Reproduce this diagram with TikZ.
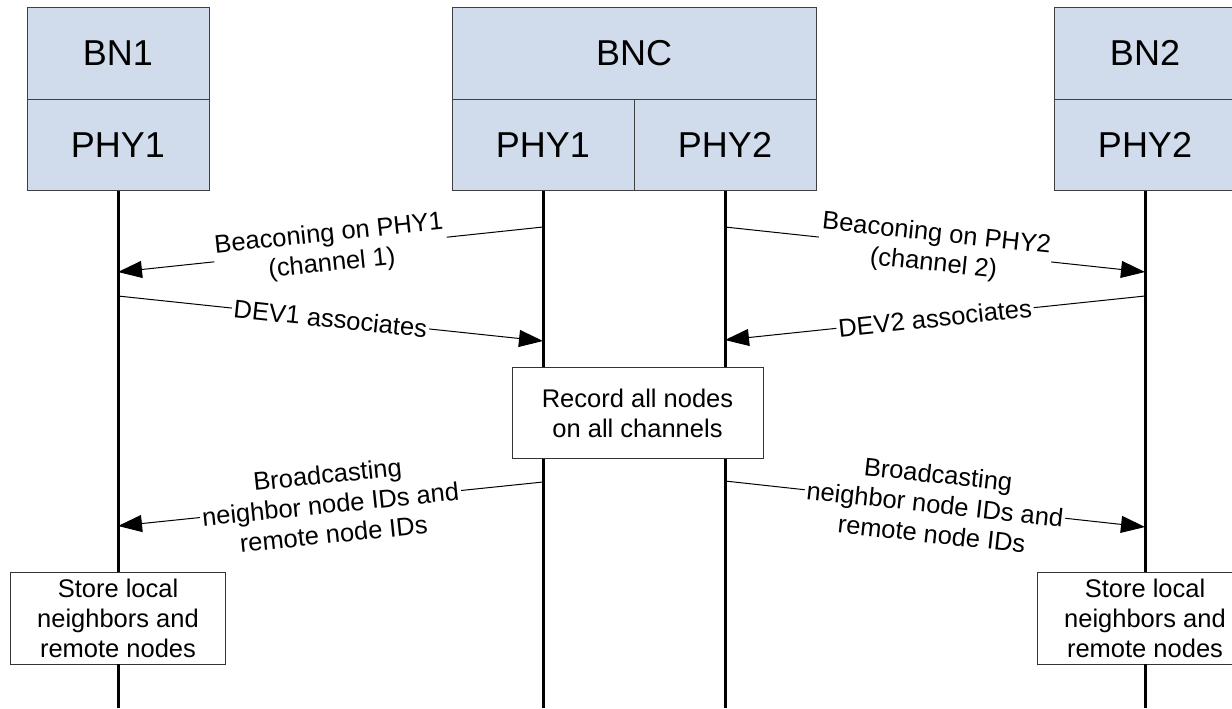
\documentclass[tikz,border=0pt]{standalone}
\usepackage{fontspec}
\setmainfont{Liberation Sans}
\usepackage{xcolor}
\usepackage{tikz}
\usetikzlibrary{arrows.meta,positioning}
\definecolor{headblue}{RGB}{208,220,236}

\begin{document}
\begin{tikzpicture}[
    x=0.5pt, y=-0.5pt,
    font=\fontsize{12.75}{15}\selectfont,
    head/.style={draw=black!75, fill=headblue, minimum width=91pt, minimum height=46pt, inner sep=0pt, font=\fontsize{18}{21}\selectfont},
    phy/.style={head, minimum height=45.5pt},
    life/.style={line width=1.5pt},
    msg/.style={-{Triangle[length=12pt, width=8.5pt]}, line width=0.5pt},
    lab/.style={fill=white, inner sep=1pt, align=center, sloped},
    act/.style={draw=black!80, fill=white, align=center, inner sep=0pt, minimum height=45.5pt}
]
\useasboundingbox (0,0) rectangle (1232,708);
\coordinate (bottom) at (0,708);
% entities
\node[head] (bn1) at (118,53) {BN1};
\node[phy, below=0pt of bn1] (bn1phy) {PHY1};
\node[head, minimum width=182pt] (bnc) at (634,53) {BNC};
\node[phy, below right=0pt and 0pt of bnc.south west] (bncphy1) {PHY1};
\node[phy, below left=0pt and 0pt of bnc.south east] (bncphy2) {PHY2};
\node[head] (bn2) at (1145,53) {BN2};
\node[phy, below=0pt of bn2] (bn2phy) {PHY2};
% actions
\node[act, minimum width=125.5pt] (record) at (637.5,413) {Record all nodes\\on all channels};
\node[act, minimum width=107.5pt, minimum height=46pt] (store1) at (118,618) {Store local\\neighbors and\\remote nodes};
\node[act, minimum width=107.5pt, minimum height=46pt] (store2) at (1145,618) {Store local\\neighbors and\\remote nodes};
% lifelines
\draw[life] (bn1phy.south) -- (store1.north);
\draw[life] (store1.south) -- (store1.south |- bottom);
\draw[life] (bncphy1.south) -- (bncphy1.south |- record.north);
\draw[life] (bncphy1.south |- record.south) -- (bncphy1.south |- bottom);
\draw[life] (bncphy2.south) -- (bncphy2.south |- record.north);
\draw[life] (bncphy2.south |- record.south) -- (bncphy2.south |- bottom);
\draw[life] (bn2phy.south) -- (store2.north);
\draw[life] (store2.south) -- (store2.south |- bottom);
% message ends
\coordinate (c1a) at (543,227);  \coordinate (b1a) at (118,272);
\coordinate (c2a) at (725,227);  \coordinate (b2a) at (1145,272);
\coordinate (b1b) at (118,296);  \coordinate (c1b) at (543,341);
\coordinate (b2b) at (1145,296); \coordinate (c2b) at (725,340);
\coordinate (c1c) at (543,482);  \coordinate (b1c) at (118,526);
\coordinate (c2c) at (725,481);  \coordinate (b2c) at (1145,527);
% messages
\draw[msg] (c1a) -- node[lab]{Beaconing on PHY1\\(channel 1)} (b1a);
\draw[msg] (c2a) -- node[lab]{Beaconing on PHY2\\(channel 2)} (b2a);
\draw[msg] (b1b) -- node[lab]{DEV1 associates} (c1b);
\draw[msg] (b2b) -- node[lab]{DEV2 associates} (c2b);
\draw[msg] (c1c) -- node[lab]{Broadcasting\\neighbor node IDs and\\remote node IDs} (b1c);
\draw[msg] (c2c) -- node[lab]{Broadcasting\\neighbor node IDs and\\remote node IDs} (b2c);
\end{tikzpicture}
\end{document}
